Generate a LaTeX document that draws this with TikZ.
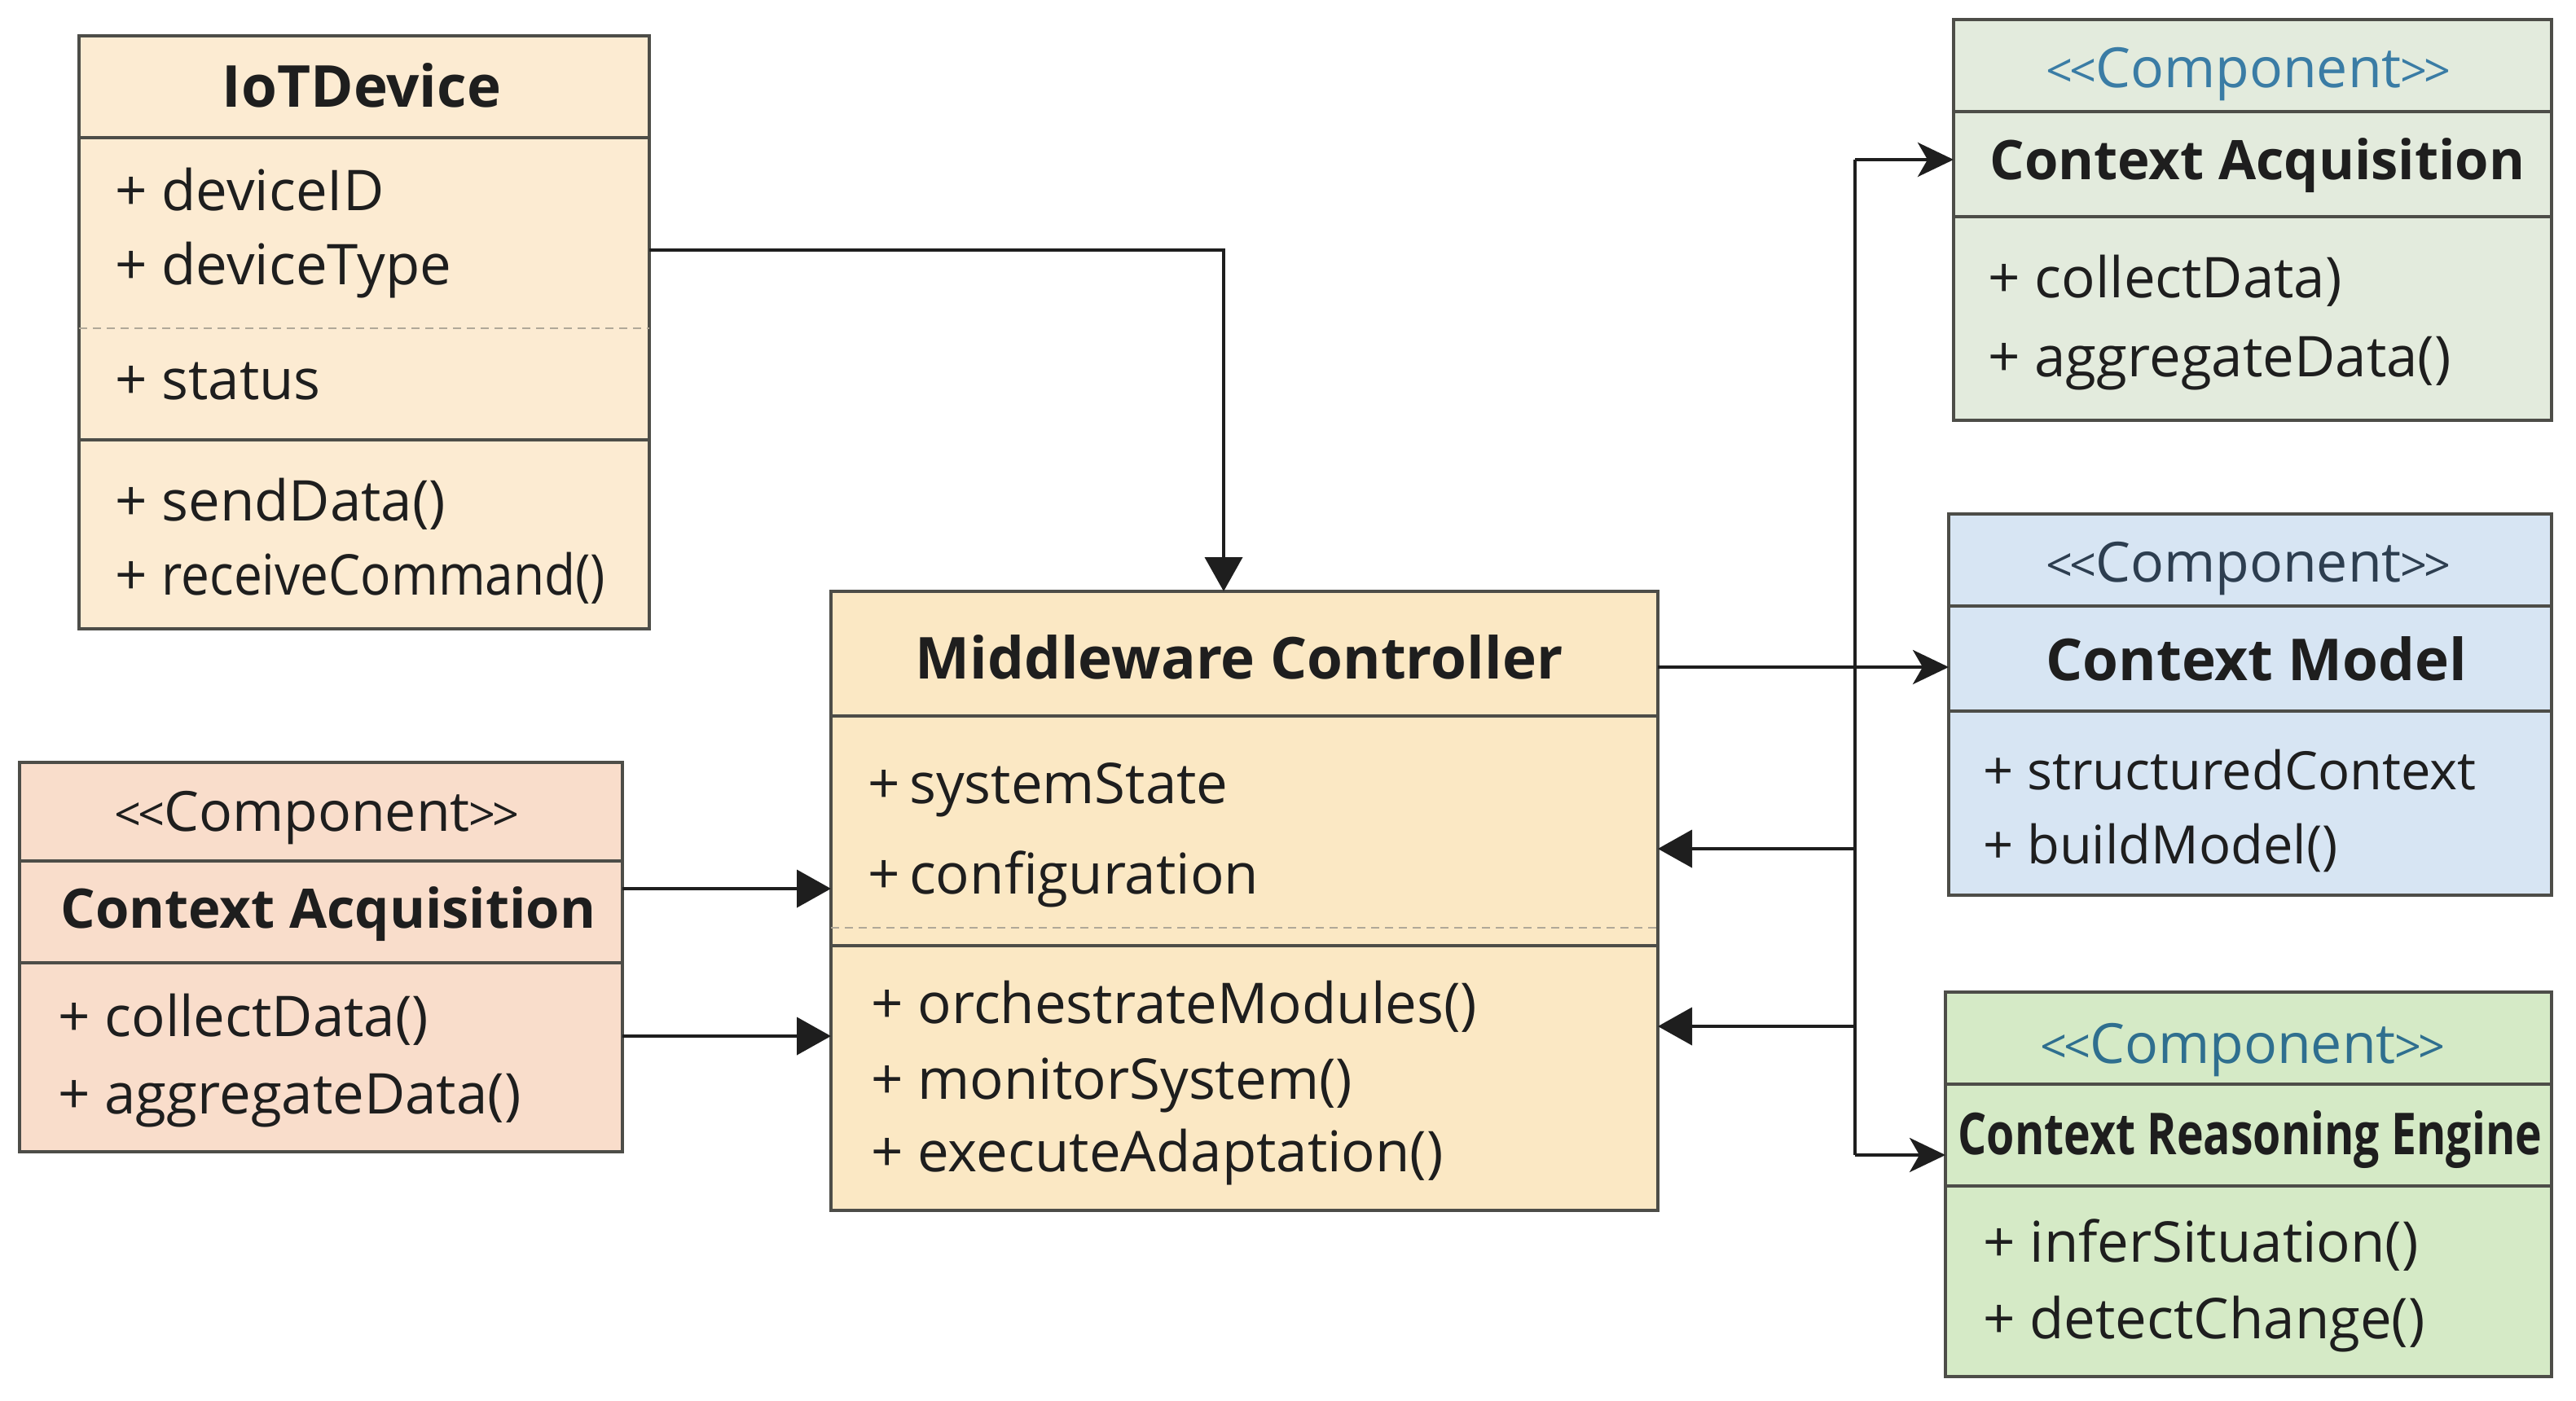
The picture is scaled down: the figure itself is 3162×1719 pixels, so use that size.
\documentclass[tikz,border=0pt]{standalone}
\usepackage{fontspec}
\setmainfont{Open Sans}
\usetikzlibrary{arrows.meta}
\definecolor{boxline}{HTML}{4D4D48}
\definecolor{txt}{HTML}{1E1E1E}
\definecolor{dashgray}{HTML}{B0A898}
\definecolor{iotfill}{HTML}{FCEBD2}
\definecolor{mwfill}{HTML}{FBE8C4}
\definecolor{pinkfill}{HTML}{F9DDCB}
\definecolor{cafill}{HTML}{E3EBDD}
\definecolor{cmfill}{HTML}{D7E5F3}
\definecolor{crefill}{HTML}{D5EAC6}
\definecolor{stblue}{HTML}{3A7CA5}
\definecolor{stslate}{HTML}{2D3E50}
\definecolor{stteal}{HTML}{2F6F8F}
\newcommand{\chl}{\scalebox{0.85}{<}\kern-4pt\scalebox{0.85}{<}\kern-1pt}
\newcommand{\chr}{\kern-1pt\scalebox{0.85}{>}\kern-4pt\scalebox{0.85}{>}}
\newcommand{\stereotxt}{\chl Component\chr}
\begin{document}
\begin{tikzpicture}[x=1pt,y=-1pt,
  box/.style={draw=boxline, line width=4pt, inner sep=0pt, outer sep=0pt},
  sepline/.style={draw=boxline, line width=3.5pt},
  dsep/.style={draw=dashgray, line width=2.5pt, dash pattern=on 10pt off 7pt},
  titletext/.style={font=\fontsize{71}{80}\selectfont\bfseries, text=txt, inner sep=0pt},
  catitle/.style={font=\fontsize{67}{80}\selectfont\bfseries, text=txt, inner sep=0pt},
  item/.style={font=\fontsize{69}{80}\selectfont, text=txt, anchor=base west, inner sep=0pt},
  smallitem/.style={item, font=\fontsize{65}{76}\selectfont},
  stereo/.style={font=\fontsize{68}{78}\selectfont, inner sep=0pt},
  conn/.style={line width=4pt, draw=txt},
  tri/.style={-{Triangle[length=42pt,width=46pt]}},
  stl/.style={-{Stealth[length=44pt,width=42pt,inset=12pt]}},
]
\fill[white] (0,0) rectangle (3162,1719);
\useasboundingbox (0,0) rectangle (3162,1719);

% ---------- IoTDevice ----------
\node[box, fill=iotfill, minimum width=700pt, minimum height=728pt] (iot) at (447,408) {};
\draw[sepline] (iot.west |- 0,169) -- (iot.east |- 0,169);
\draw[dsep] (iot.west |- 0,403) -- (iot.east |- 0,403);
\draw[sepline] (iot.west |- 0,540) -- (iot.east |- 0,540);
\node[titletext] (iotT) at (444,105) {IoTDevice};
\node[item] (iot1) at (141,258) {+ deviceID};
\node[item] (iot2) at (141,349) {+ deviceType};
\node[item] (iot3) at (141,490) {+ status};
\node[item] (iot4) at (141,639) {+ sendData()};
\node[item] (iot5) at (141,730) {+ \scalebox{0.9}[1]{receiveCommand()}};

% ---------- Middleware Controller ----------
\node[box, fill=mwfill, minimum width=1015pt, minimum height=760pt] (mw) at (1527.5,1106) {};
\draw[sepline] (mw.west |- 0,879) -- (mw.east |- 0,879);
\draw[dsep] (mw.west |- 0,1139) -- (mw.east |- 0,1139);
\draw[sepline] (mw.west |- 0,1161) -- (mw.east |- 0,1161);
\node[titletext] (mwT) at (1521,807) {Middleware Controller};
\node[item] (mw1) at (1065,986) {+\,systemState};
\node[item] (mw2) at (1065,1097) {+\,configuration};
\node[item] (mw3) at (1069,1256) {+ orchestrateModules()};
\node[item] (mw4) at (1069,1349) {+ monitorSystem()};
\node[item] (mw5) at (1069,1438) {+ executeAdaptation()};

% ---------- Context Acquisition (left) ----------
\node[box, fill=pinkfill, minimum width=740pt, minimum height=478pt] (ca1) at (394,1175) {};
\draw[sepline] (ca1.west |- 0,1057) -- (ca1.east |- 0,1057);
\draw[sepline] (ca1.west |- 0,1182) -- (ca1.east |- 0,1182);
\node[stereo, text=txt] (ca1S) at (389,1004) {\stereotxt};
\node[catitle] (ca1T) at (403,1122) {Context Acquisition};
\node[item] (ca11) at (71,1272) {+ collectData()};
\node[item] (ca12) at (71,1367) {+ aggregateData()};

% ---------- Context Acquisition (right) ----------
\node[box, fill=cafill, minimum width=734pt, minimum height=492pt] (ca2) at (2765,270) {};
\draw[sepline] (ca2.west |- 0,137) -- (ca2.east |- 0,137);
\draw[sepline] (ca2.west |- 0,266) -- (ca2.east |- 0,266);
\node[stereo, text=stblue] (ca2S) at (2760,91) {\stereotxt};
\node[catitle] (ca2T) at (2771,203) {Context Acquisition};
\node[item] (ca21) at (2440,365) {+ collectData)};
\node[item] (ca22) at (2440,462) {+ aggregateData()};

% ---------- Context Model ----------
\node[box, fill=cmfill, minimum width=740pt, minimum height=468pt] (cm) at (2762,865) {};
\draw[sepline] (cm.west |- 0,744) -- (cm.east |- 0,744);
\draw[sepline] (cm.west |- 0,873) -- (cm.east |- 0,873);
\node[stereo, text=stslate] (cmS) at (2760,698) {\stereotxt};
\node[titletext] (cmT) at (2770,809) {Context Model};
\node[smallitem] (cm1) at (2434,969) {+ structuredContext};
\node[smallitem] (cm2) at (2434,1060) {+ buildModel()};

% ---------- Context Reasoning Engine ----------
\node[box, fill=crefill, minimum width=744pt, minimum height=472pt] (cre) at (2760,1454) {};
\draw[sepline] (cre.west |- 0,1331) -- (cre.east |- 0,1331);
\draw[sepline] (cre.west |- 0,1456) -- (cre.east |- 0,1456);
\node[stereo, text=stteal] (creS) at (2753,1289) {\stereotxt};
\node[titletext] (creT) at (2762,1399) {\scalebox{0.78}[1]{Context Reasoning Engine}};
\node[item] (cre1) at (2434,1549) {+ inferSituation()};
\node[item] (cre2) at (2434,1643) {+ detectChange()};

% ---------- Connectors ----------
\draw[conn,tri] (iot.east |- 0,307) -| (mw.north -| 1502,0);
\draw[conn,tri] (ca1.east |- 0,1091) -- (mw.west |- 0,1091);
\draw[conn,tri] (ca1.east |- 0,1272) -- (mw.west |- 0,1272);
\draw[conn,stl] (mw.east |- 0,819) -- (cm.west |- 0,819);

\coordinate (busTop) at (2277,196);
\coordinate (busA) at (2277,1042);
\coordinate (busB) at (2277,1260);
\coordinate (busBot) at (2277,1418);
\draw[conn] (busTop) -- (busBot);
\draw[conn,stl] (busTop) -- (ca2.west |- busTop);
\draw[conn,stl] (busBot) -- (cre.west |- busBot);
\draw[conn,tri] (busA) -- (mw.east |- busA);
\draw[conn,tri] (busB) -- (mw.east |- busB);
\end{tikzpicture}
\end{document}
